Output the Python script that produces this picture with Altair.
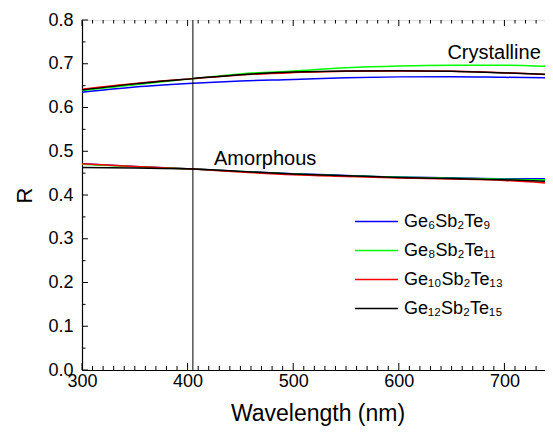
import altair as alt
import pandas as pd

# Wavelength sample points (nm)
wavelength = [300, 350, 405, 450, 500, 550, 600, 650, 700, 740]

series_labels = ["Ge₆Sb₂Te₉", "Ge₈Sb₂Te₁₁", "Ge₁₀Sb₂Te₁₃", "Ge₁₂Sb₂Te₁₅"]
series_colors = ["#0000ff", "#00ff00", "#ff0000", "#000000"]

# Crystalline reflectance
cryst_ge6 = [0.635, 0.647, 0.6556, 0.6607, 0.664, 0.668, 0.670, 0.6705, 0.669, 0.6677]
cryst_ge8 = [0.6387, 0.652, 0.666, 0.6768, 0.6836, 0.691, 0.695, 0.6966, 0.6966, 0.694]
cryst_ge10 = [0.6419, 0.655, 0.666, 0.6745, 0.6798, 0.683, 0.6836, 0.683, 0.6797, 0.675]
cryst_ge12 = [0.640, 0.654, 0.666, 0.675, 0.681, 0.6835, 0.684, 0.683, 0.679, 0.676]

# Amorphous reflectance
amor_ge6 = [0.4715, 0.4653, 0.4594, 0.454, 0.4487, 0.4448, 0.441, 0.4395, 0.4373, 0.437]
amor_ge8 = [0.470, 0.4645, 0.4594, 0.4535, 0.448, 0.444, 0.4405, 0.4385, 0.436, 0.434]
amor_ge10 = [0.4715, 0.4650, 0.4594, 0.4527, 0.4464, 0.4425, 0.4389, 0.4366, 0.4334, 0.4274]
amor_ge12 = [0.463, 0.4617, 0.4594, 0.454, 0.448, 0.444, 0.440, 0.4375, 0.435, 0.431]

laser_line = [405]

annot_text = ["Crystalline", "Amorphous"]
annot_x = [646, 425]
annot_y = [0.710, 0.4676]

x_major = [300, 400, 500, 600, 700]
x_minor = [v for v in range(310, 750, 10) if v % 100 != 0]
y_major = [0.0, 0.1, 0.2, 0.3, 0.4, 0.5, 0.6, 0.7, 0.8]
y_minor = [0.05, 0.15, 0.25, 0.35, 0.45, 0.55, 0.65, 0.75]

X_MIN, X_MAX = 300, 746
Y_MIN, Y_MAX = 0.0, 0.8
FONT = "Liberation Sans"
W, H = 471, 350

rows = []
for phase, arrs in [("Crystalline", [cryst_ge6, cryst_ge8, cryst_ge10, cryst_ge12]),
                    ("Amorphous", [amor_ge6, amor_ge8, amor_ge10, amor_ge12])]:
    for lab, arr in zip(series_labels, arrs):
        for wv, r in zip(wavelength, arr):
            rows.append({"x": wv, "y": r, "series": lab, "phase": phase})
df = pd.DataFrame(rows)

xscale = alt.Scale(domain=[X_MIN, X_MAX], nice=False, zero=False)
yscale = alt.Scale(domain=[Y_MIN, Y_MAX], nice=False, zero=False)

lines = alt.Chart(df).mark_line(strokeWidth=1.5, interpolate="monotone").encode(
    x=alt.X("x:Q", scale=xscale, axis=alt.Axis(
        orient="bottom", values=x_major, ticks=False, grid=False, domainColor="black", domainWidth=1.2,
        labelFontSize=18, labelFont=FONT, labelColor="black", labelPadding=2, labelFlush=False,
        title="Wavelength (nm)", titleFont=FONT, titleFontSize=23, titleFontWeight="normal",
        titleColor="black", titleBaseline="alphabetic", titleY=50)),
    y=alt.Y("y:Q", scale=yscale, axis=alt.Axis(
        orient="left", values=y_major, format=".1f", ticks=False, grid=False, domainColor="black",
        domainWidth=1.2, labelFontSize=18, labelFont=FONT, labelColor="black", labelPadding=9,
        labelFlush=False, title="R", titleFont=FONT, titleFontSize=22, titleFontWeight="normal",
        titleColor="black", titleBaseline="alphabetic", titleX=-51, titleY=H / 2, titleAngle=-90,
        titleAlign="center")),
    color=alt.Color("series:N", sort=series_labels,
                    scale=alt.Scale(domain=series_labels, range=series_colors),
                    legend=alt.Legend(title=None, orient="none", legendX=272, legendY=188,
                                      symbolType="stroke", symbolSize=1849, symbolStrokeWidth=1.5,
                                      clipHeight=27, rowPadding=2, labelFontSize=18,
                                      labelFont=FONT, labelColor="black", labelOffset=5,
                                      padding=0, labelLimit=300)),
    detail="phase:N",
    order=alt.Order("x:Q"),
)

vline = alt.Chart(pd.DataFrame({"x": laser_line})).mark_rule(color="black", strokeWidth=1).encode(
    x="x:Q")

annot = alt.Chart(pd.DataFrame({"x": annot_x, "y": annot_y, "t": annot_text})).mark_text(
    align="left", baseline="alphabetic", fontSize=20, font=FONT, color="black").encode(
    x="x:Q", y="y:Q", text="t:N")

# inward ticks drawn as tick marks
ymaj = alt.Chart(pd.DataFrame({"y": y_major})).mark_tick(
    color="black", thickness=1, size=6, opacity=1).encode(y="y:Q", x=alt.value(3))
ymin = alt.Chart(pd.DataFrame({"y": y_minor})).mark_tick(
    color="black", thickness=1, size=3.5, opacity=1).encode(y="y:Q", x=alt.value(1.75))
xmaj = alt.Chart(pd.DataFrame({"x": x_major})).mark_tick(
    color="black", thickness=1, size=7, opacity=1).encode(x="x:Q", y=alt.value(H - 3.5))
xmin = alt.Chart(pd.DataFrame({"x": x_minor})).mark_tick(
    color="black", thickness=1, size=4, opacity=1).encode(x="x:Q", y=alt.value(H - 2))
tmaj = alt.Chart(pd.DataFrame({"x": x_major})).mark_tick(
    color="black", thickness=1, size=6, opacity=1).encode(x="x:Q", y=alt.value(3))
tmin = alt.Chart(pd.DataFrame({"x": x_minor})).mark_tick(
    color="black", thickness=1, size=3.5, opacity=1).encode(x="x:Q", y=alt.value(1.75))

# right padding is negative so the plot runs off the right edge, as in the cropped original
chart = alt.layer(lines, vline, annot, ymaj, ymin, xmaj, xmin, tmaj, tmin).properties(
    width=W, height=H,
    autosize=alt.AutoSizeParams(type="none"),
    padding={"left": 74, "top": 12, "right": -8, "bottom": 56},
).configure_view(stroke="black", strokeWidth=1.2).configure(background="white")

chart.save("out.html", embed_options={"renderer": "svg", "actions": False})
